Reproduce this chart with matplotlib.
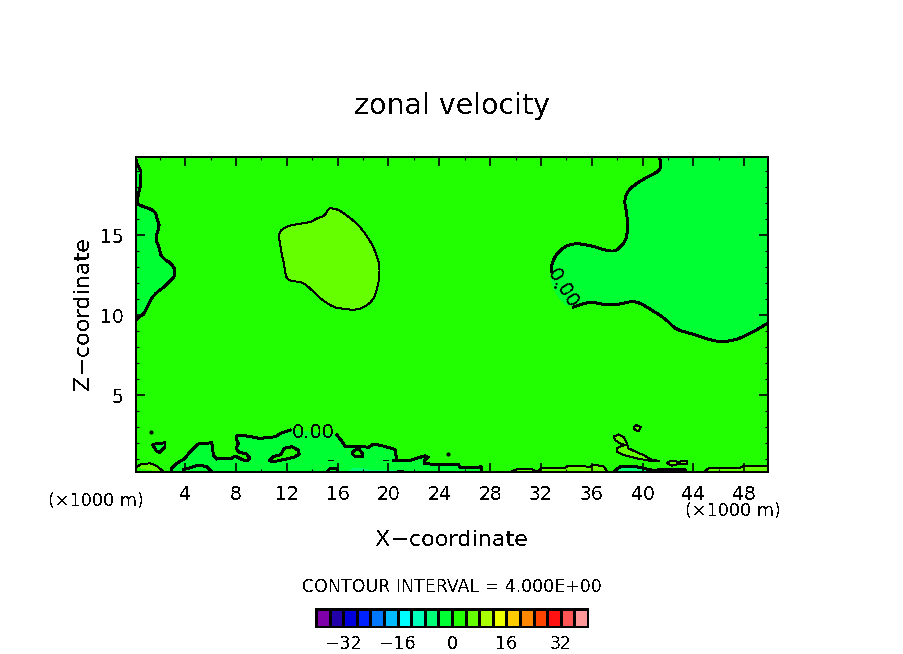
import numpy as np
import matplotlib
matplotlib.use("Agg")
import matplotlib.pyplot as plt
from matplotlib.ticker import MultipleLocator

plt.rcParams['font.family'] = ['DejaVu Sans']
plt.rcParams['text.antialiased'] = False
plt.rcParams['lines.antialiased'] = False
plt.rcParams['patch.antialiased'] = False

# colour levels
levels = np.arange(-40, 44, 4)
colors = ["#7f00aa", "#2200aa", "#0000dd", "#0022ff", "#0077ff", "#00bbff", "#00ffff",
          "#00ffbb", "#00ff77", "#00ff33", "#22ff00", "#66ff00", "#aaff00", "#eeff00",
          "#ffcc00", "#ff8800", "#ff4400", "#ff1111", "#ff5555", "#ff9999"]
cbar_ticks = [-32, -16, 0, 16, 32]
x_ticks = [4, 8, 12, 16, 20, 24, 28, 32, 36, 40, 44, 48]
y_ticks = [5, 10, 15]
xlim = (0.125, 49.875)
ylim = (0.19, 19.875)

neg = colors[9]
zero = colors[10]
pos = colors[11]
deep = colors[8]

# zero contour, right hand region (label gap between point 17 and 18)
right_x = [41.3, 41.5, 41.25, 40.3, 39.3, 38.8, 38.55, 38.8, 38.8, 38.45, 37.9, 37.3, 36.1, 34.8, 33.9, 33.25, 32.85, 32.8,
           32.8, 33.1, 33.8, 34.55, 35.9, 36.9, 38.1, 39.0, 39.7, 40.85, 41.9, 42.6, 44.0, 45.85, 47.2, 48.5, 49.875]
right_y = [19.875, 19.4, 18.96, 18.6, 18.1, 17.7, 17.1, 16.25, 14.9, 14.4, 14.0, 14.0, 14.3, 14.5, 14.3, 13.85, 13.2, 12.7,
           12.2, 11.45, 10.7, 10.5, 10.85, 10.65, 10.65, 10.85, 10.8, 10.25, 9.7, 9.1, 8.8, 8.3, 8.4, 8.85, 9.5]

# zero contour, left edge
left_x = [0.125, 0.7, 1.62, 1.8, 2.0, 1.62, 1.96, 2.07, 3.06, 3.27, 2.54, 1.49, 1.01, 0.83, 0.125]
left_y = [16.98, 16.77, 16.52, 15.94, 15.63, 14.73, 14.27, 13.64, 13.13, 12.5, 11.88, 11.25, 10.52, 10.17, 9.69]
top_left_x = [0.125, 0.18, 0.52, 0.5, 0.31, 0.23, 0.125]
top_left_y = [19.7, 19.48, 18.96, 18.12, 17.6, 16.98, 16.9]

# +4 blob in the middle
blob_x = [15.4, 15.93, 16.58, 17.5, 18.16, 18.81, 19.2, 19.31, 19.26, 19.02, 18.68, 18.02, 17.31, 16.45, 15.66, 14.61,
          13.83, 13.17, 12.25, 11.91, 11.78, 11.6, 11.44, 11.33, 11.86, 12.9, 13.83, 14.35, 15.0, 15.22, 15.4]
blob_y = [16.67, 16.63, 16.31, 15.73, 15.11, 14.27, 13.44, 12.92, 12.19, 11.36, 10.83, 10.46, 10.31, 10.39, 10.48, 11.04,
          11.67, 12.08, 12.11, 12.39, 13.23, 13.75, 14.58, 15.11, 15.52, 15.69, 15.79, 16.04, 16.21, 16.56, 16.67]

# zero contour along the ground, first part stops at the 0.00 label
ground1_x = [2.86, 2.94, 3.33, 3.98, 4.38, 5.03, 6.09, 6.22, 6.48, 7.66, 7.92, 8.45, 8.84, 9.1, 8.84, 8.26, 8.0, 8.18,
             8.0, 8.1, 8.71, 9.89, 11.07, 11.6, 12.25]
ground1_y = [0.19, 0.42, 0.73, 1.04, 1.46, 1.94, 2.02, 1.25, 1.0, 1.04, 1.19, 0.98, 0.88, 1.04, 1.31, 1.42, 1.67, 1.98,
             2.29, 2.5, 2.46, 2.29, 2.39, 2.64, 2.81]
ground2_x = [15.93, 16.27, 16.58, 17.24, 17.76, 18.42, 18.81, 19.6, 20.52, 20.65, 20.39, 21.57, 22.49, 22.88, 23.14,
             22.83, 22.83, 23.93, 25.24, 25.5, 25.64, 26.82, 27.29, 27.29]
ground2_y = [2.5, 2.19, 1.81, 1.81, 1.81, 1.73, 1.94, 1.81, 1.6, 0.94, 0.89, 0.89, 1.11, 1.21, 1.11,
             0.94, 0.73, 0.63, 0.67, 0.69, 0.46, 0.46, 0.52, 0.19]

# islands inside the ground region
island1_x = [10.6, 10.94, 11.54, 11.8, 12.38, 12.9, 12.98, 12.51, 11.6, 10.94, 10.6]
island1_y = [0.89, 1.14, 1.29, 1.67, 1.77, 1.56, 1.29, 1.1, 0.94, 0.83, 0.89]
island2_x = [17.11, 17.37, 17.63, 17.94, 17.94, 17.37, 17.11]
island2_y = [1.36, 1.56, 1.67, 1.36, 1.15, 1.15, 1.36]
patch_x = [1.44, 2.41, 2.41, 1.96, 1.7, 1.44]
patch_y = [1.92, 2.02, 1.77, 1.42, 1.52, 1.92]
dots_x = [1.28, 24.72, 33.1]
dots_y = [2.71, 1.31, 11.77]

# +4 shapes near the ground
bump1_x = [0.125, 0.18, 0.57, 1.23, 1.75, 2.14, 2.27]
bump1_y = [0.5, 0.52, 0.69, 0.73, 0.58, 0.31, 0.19]
bump2_x = [29.57, 30.23, 31.15, 31.8, 32.0, 33.9, 34.16, 35.87, 36.13, 36.92, 37.26]
bump2_y = [0.19, 0.4, 0.4, 0.19, 0.46, 0.46, 0.59, 0.52, 0.63, 0.56, 0.19]
bump3_x = [44.8, 45.2, 46.1, 47.55, 47.95, 49.875, 49.875]
bump3_y = [0.19, 0.42, 0.42, 0.42, 0.56, 0.56, 0.19]
lobe_x = [37.71, 38.1, 38.5, 38.76, 38.89, 39.55, 40.07, 40.73, 41.33, 40.6, 39.55, 38.5, 37.97, 37.97, 38.37, 38.63,
          38.23, 37.84, 37.71]
lobe_y = [2.39, 2.54, 2.39, 1.98, 1.67, 1.42, 1.25, 0.94, 0.89, 0.89, 1.04, 1.25, 1.46, 1.67, 1.81, 1.88,
          1.98, 2.19, 2.39]
ring_x = [39.28, 39.55, 39.86, 39.68, 39.42, 39.28]
ring_y = [2.98, 3.13, 2.98, 2.75, 2.81, 2.98]
tail_x = [41.9, 42.3, 42.82, 43.53, 43.53, 42.82, 42.3, 41.9]
tail_y = [0.77, 0.89, 0.83, 0.89, 0.69, 0.69, 0.58, 0.77]

# -4 shapes on the ground
low1_x = [37.7, 38.23, 39.28, 40.07, 40.73, 43.35, 43.35]
low1_y = [0.19, 0.52, 0.56, 0.42, 0.31, 0.35, 0.19]
low2_x = [16.84, 17.24, 17.76, 18.42, 19.73, 20.5, 20.5]
low2_y = [0.19, 0.42, 0.42, 0.31, 0.27, 0.27, 0.19]
arc1_x = [3.85, 4.38, 5.03, 5.69, 6.09]
arc1_y = [0.36, 0.45, 0.63, 0.52, 0.19]
arc2_x = [15.14, 15.4, 15.93, 16.0]
arc2_y = [0.19, 0.42, 0.42, 0.19]
dash_x = [(10.05, 11.46), (15.25, 15.6), (19.6, 19.94), (20.65, 21.17), (18.94, 19.4), (8.6, 9.2), (12.7, 13.2)]
dash_y = [(0.27, 0.27), (0.94, 0.94), (0.94, 0.94), (0.31, 0.31), (0.27, 0.27), (0.27, 0.27), (0.25, 0.25)]

W, H = 904, 654
fig = plt.figure(figsize=(W / 100, H / 100), dpi=100)
ax = fig.add_axes([136 / W, 1 - 472 / H, 632 / W, 315 / H])
ax.set_facecolor(zero)

THICK = 1.4
THIN = 0.7


def smooth(xs, ys, passes=2):
    # corner cutting so the long contours don't look like polygons
    p = np.column_stack([xs, ys])
    for _ in range(passes):
        q = 0.75 * p[:-1] + 0.25 * p[1:]
        r = 0.25 * p[:-1] + 0.75 * p[1:]
        mid = np.empty((2 * len(q), 2))
        mid[0::2] = q
        mid[1::2] = r
        p = np.vstack([p[:1], mid, p[-1:]])
    return p[:, 0], p[:, 1]


def region(xs, ys, color, lw=THICK):
    ax.fill(xs, ys, color=color, lw=0, zorder=1)
    ax.plot(xs, ys, color="k", lw=lw, zorder=3, solid_capstyle="butt")


# right region: corner added for the fill, contour drawn in two pieces
fx, fy = smooth(right_x, right_y)
ax.fill(np.r_[fx, 49.875], np.r_[fy, 19.875], color=neg, lw=0, zorder=1)
ax.plot(*smooth(right_x[:18], right_y[:18]), color="k", lw=THICK, zorder=3)
ax.plot(*smooth(right_x[21:], right_y[21:]), color="k", lw=THICK, zorder=3)
ax.text(33.75, 11.65, "0.00", rotation=-58, ha="center", va="center", fontsize=14, zorder=4)

region(*smooth(left_x, left_y), neg)
region(top_left_x, top_left_y, neg)
region(*smooth(blob_x, blob_y), pos, THIN)

# ground region
ax.fill(ground1_x + ground2_x, ground1_y + ground2_y, color=neg, lw=0, zorder=1)
ax.plot(ground1_x, ground1_y, color="k", lw=THICK, zorder=3)
ax.plot(ground2_x, ground2_y, color="k", lw=THICK, zorder=3)
ax.text(14.1, 2.67, "0.00", ha="center", va="center", fontsize=14, zorder=4)
region(island1_x, island1_y, zero)
region(island2_x, island2_y, zero)
region(patch_x, patch_y, neg)
ax.plot(dots_x[:2], dots_y[:2], "k.", ms=4, ls="none", zorder=3)
ax.plot(dots_x[2:], dots_y[2:], "k.", ms=2, ls="none", zorder=3)

for xs, ys in [(bump1_x, bump1_y), (bump2_x, bump2_y), (bump3_x, bump3_y),
               (lobe_x, lobe_y), (ring_x, ring_y), (tail_x, tail_y)]:
    region(xs, ys, pos, THIN)
region(low1_x, low1_y, deep)
ax.fill(low2_x, low2_y, color=deep, lw=0, zorder=1)
ax.plot(arc1_x, arc1_y, color="k", lw=THICK, zorder=3)
ax.plot(arc2_x, arc2_y, color="k", lw=THICK, zorder=3)
for xs, ys in zip(dash_x, dash_y):
    ax.plot(xs, ys, color="k", lw=THIN, zorder=3)

ax.set_xlim(*xlim)
ax.set_ylim(*ylim)
ax.set_xticks(x_ticks)
ax.set_yticks(y_ticks)
ax.xaxis.set_minor_locator(MultipleLocator(2))
ax.yaxis.set_minor_locator(MultipleLocator(1))
ax.tick_params(which="major", direction="in", length=6.5, width=1.2, top=True, right=True, labelsize=13.5, pad=9)
ax.tick_params(which="minor", direction="in", length=2.5, width=0.8, top=True, right=True)
for s in ax.spines.values():
    s.set_linewidth(1.3)
    s.set_zorder(6)

fig.text(452 / W, 1 - 105.5 / H, "zonal velocity", ha="center", va="center", fontsize=20.5)
fig.text(452 / W, 1 - 540 / H, "X\u2212coordinate", ha="center", va="center", fontsize=16)
fig.text(83 / W, 1 - 314 / H, "Z\u2212coordinate", ha="center", va="center", rotation=90, fontsize=16)
fig.text(96 / W, 1 - 501 / H, "(\u00d71000 m)", ha="center", va="center", fontsize=12.7)
fig.text(733 / W, 1 - 511 / H, "(\u00d71000 m)", ha="center", va="center", fontsize=12.7)
fig.text(452 / W, 1 - 587 / H, "CONTOUR INTERVAL = 4.000E+00", ha="center", va="center", fontsize=12.5)

# colour bar
cax = fig.add_axes([316 / W, 1 - 627 / H, 272 / W, 18 / H])
for i, c in enumerate(colors):
    cax.bar(levels[i], 1, width=4, align="edge", color=c, edgecolor="k", linewidth=1.0)
cax.set_xlim(levels[0], levels[-1])
cax.set_ylim(0, 1)
cax.set_yticks([])
cax.set_xticks(cbar_ticks)
cax.set_xticklabels([str(t).replace("-", "\u2212") for t in cbar_ticks])
cax.tick_params(length=0, labelsize=12.5, pad=6)
for s in cax.spines.values():
    s.set_linewidth(1.3)

fig.savefig("out.png", dpi=100)
